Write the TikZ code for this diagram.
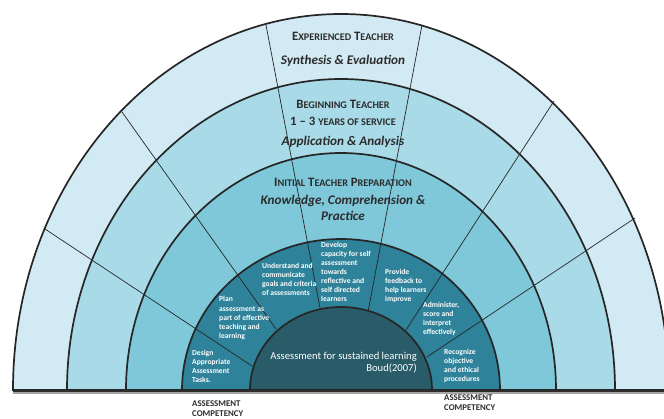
\documentclass[tikz,border=0pt]{standalone}
\usepackage{fontspec}
\setmainfont{Carlito}
\definecolor{bandfour}{HTML}{D2EAF3}
\definecolor{bandthree}{HTML}{A8DAE8}
\definecolor{bandtwo}{HTML}{7EC8DA}
\definecolor{bandone}{HTML}{2E8299}
\definecolor{core}{HTML}{2A5B69}
\definecolor{headgray}{HTML}{2C2C2C}
\newcommand{\scw}[2]{#1{\fontsize{10.2}{12}\selectfont #2}}

\begin{document}
\begin{tikzpicture}[x=1pt,y=-1pt,
  ring/.style={draw=black!85,line width=1.7pt},
  spoke/.style={black!85,line width=0.7pt},
  cell/.style={text=white,font=\fontsize{7.6}{9}\selectfont\bfseries,align=left,anchor=north west,inner sep=0pt},
  head/.style={text=headgray,font=\fontsize{12.8}{15}\selectfont\bfseries,inner sep=0pt},
  sub/.style={text=headgray,font=\fontsize{13.2}{16}\selectfont\bfseries\itshape,inner sep=0pt},
  comp/.style={text=headgray,font=\fontsize{8.8}{10}\selectfont\bfseries,anchor=west,inner sep=0pt}]
\useasboundingbox (0,0) rectangle (664,418);
\clip (0,0) rectangle (664,418);
\fill[white] (0,0) rectangle (664,418);
% bands, outer first
\draw[ring,fill=bandfour] (13,390) arc[start angle=180,end angle=0,x radius=328pt,y radius=376pt] -- cycle;
\draw[ring,fill=bandthree] (67,390) arc[start angle=180,end angle=0,x radius=274pt,y radius=311pt] -- cycle;
\draw[ring,fill=bandtwo] (126,390) arc[start angle=180,end angle=0,x radius=215pt,y radius=237pt] -- cycle;
\draw[ring,fill=bandone] (182,390) arc[start angle=180,end angle=0,x radius=159pt,y radius=151pt] -- cycle;
% spokes
\draw[spoke] (45,229) -- (252,366);
\draw[spoke] (122,112) -- (276,329);
\draw[spoke] (266,25) -- (320,308);
\draw[spoke] (422,25) -- (368,312);
\draw[spoke] (554,101) -- (406,330);
\draw[spoke] (635,218) -- (427,357);
% core
\draw[ring,fill=core] (250,390) arc[start angle=180,end angle=0,x radius=91pt,y radius=83pt] -- cycle;
\draw[headgray,line width=1.8pt] (13,391) -- (664,391);
\draw[black!35,line width=1.4pt] (13,393) -- (664,393);

\node[head] (expt) at (343,36) {\scw{E}{XPERIENCED} \scw{T}{EACHER}};
\node[sub] (exps) at (343,61) {Synthesis \& Evaluation};
\node[head] (begt) at (343,104) {\scw{B}{EGINNING} \scw{T}{EACHER}};
\node[head] (begy) at (343,121) {1 -- 3 {\fontsize{10.2}{12}\selectfont YEARS OF SERVICE}};
\node[sub] (begs) at (343,142) {Application \& Analysis};
\node[head] (itpt) at (343,182) {\scw{I}{NITIAL} \scw{T}{EACHER} \scw{P}{REPARATION}};
\node[sub,align=center] (itps) at (343,208) {Knowledge, Comprehension \&\\Practice};

\node[cell] (design) at (192,350) {Design\\Appropriate\\Assessment\\Tasks.};
\node[cell] (plan) at (219,296) {Plan\\[1pt]assessment as\\part of effective\\teaching and\\learning};
\node[cell] (understand) at (262,263) {Understand and\\communicate\\goals and criteria\\of assessments};
\node[cell] (develop) at (321,242) {Develop\\capacity for self\\assessment\\towards\\reflective and\\self directed\\learners};
\node[cell] (provide) at (385,269) {Provide\\feedback to\\help learners\\improve};
\node[cell] (administer) at (423,302) {Administer,\\score and\\interpret\\effectively};
\node[cell] (recognize) at (444,349) {Recognize\\objective\\and ethical\\procedures};

\node[text=white,font=\fontsize{10.6}{12}\selectfont,align=right,anchor=east,inner sep=0pt] (coretext) at (417,362.5) {Assessment for sustained learning\\Boud(2007)};

\node[comp] (compl) at (192,404) {ASSESSMENT};
\node[comp] (compl2) at (192,414) {COMPETENCY};
\node[comp] (compr) at (444,398) {ASSESSMENT};
\node[comp] (compr2) at (444,408) {COMPETENCY};
\end{tikzpicture}
\end{document}
